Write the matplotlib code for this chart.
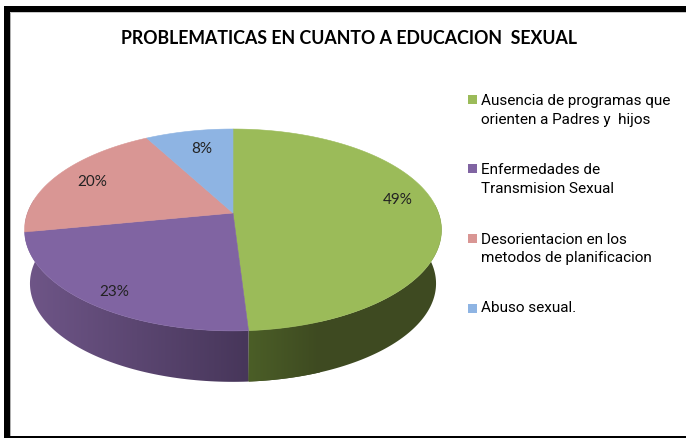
import numpy as np
import matplotlib
matplotlib.use('Agg')
import matplotlib.pyplot as plt
from matplotlib.patches import Polygon, Rectangle

# chart data
title = 'PROBLEMATICAS EN CUANTO A EDUCACION  SEXUAL'
categories = ['Ausencia de programas que\norienten a Padres y  hijos',
	'Enfermedades de\nTransmision Sexual',
	'Desorientacion en los\nmetodos de planificacion',
	'Abuso sexual.']
values = [49, 23, 20, 8]
colors = ['#9BBB59', '#8064A2', '#D99694', '#8EB4E3']
side_left = ['#4B5E27', '#6F5688']
side_right = ['#3E4A21', '#47365A']
label_pos = [(398, 200), (114, 292), (92, 182), (202, 149)]
legend_y = [110.5, 179.5, 249, 308]
marker_y = [99, 168, 238, 308]

# pie geometry, in pixels
cx, cy = 233, 213
a, b, k = 98.1, 205.5, 0.168
depth, shrink = 54, 0.974

# Projects an angle (deg, clockwise from top) onto the tilted disc
def project(deg, s=1.0, dy=0):
	t = np.radians(deg)
	w = 1 + k * np.cos(t)
	return cx + s * b * np.sin(t) / w, cy + dy - s * a * np.cos(t) / w

fig = plt.figure(figsize=(6.86, 4.38), dpi=100)
ax = fig.add_axes([0, 0, 1, 1])
ax.axis('off')

# frame
ax.add_patch(Rectangle((4, 6), 682, 6, color='black', lw=0))
ax.add_patch(Rectangle((4, 6), 6, 432, color='black', lw=0))
ax.add_patch(Rectangle((4, 436), 682, 2, color='black', lw=0))
ax.add_patch(Rectangle((10, 12), 1.2, 424, color='#b0b0b0', lw=0))
ax.add_patch(Rectangle((10, 12), 676, 1, color='#c8c8c8', lw=0))

edges = np.cumsum([0] + values) * 3.6

# outer wall of the pie, shaded left to right (only green and purple show)
for i in range(2):
	start = max(edges[i], 85)
	stop = edges[i + 1] if i == 0 else 278
	deg = np.linspace(start, stop, 90)
	top = np.array([project(d) for d in deg])
	bottom = np.array([project(d, shrink, depth) for d in deg])
	wall = Polygon(np.vstack([top, bottom[::-1]]), closed=True, fc='none', ec='none')
	ax.add_patch(wall)
	if i == 0:
		c1, c2 = side_left[i], side_right[i]
		x0, x1 = project(edges[1])[0], project(edges[1])[0] + 70
	else:
		c1, c2 = side_left[i], side_right[i]
		x0, x1 = 25, project(edges[1])[0]
	c1 = np.array(matplotlib.colors.to_rgb(c1))
	c2 = np.array(matplotlib.colors.to_rgb(c2))
	grad = np.linspace(c1, c2, 128)[np.newaxis, :, :]
	# right part of the green wall keeps the flat dark tone
	im = ax.imshow(grad, extent=[x0, x1, 400, 200], aspect='auto', zorder=1)
	im.set_clip_path(wall)
	if i == 0:
		rest = ax.add_patch(Polygon(np.vstack([top, bottom[::-1]]), closed=True, fc=side_right[0], ec='none', zorder=0.9))

ax.set_xlim(0, 686)
ax.set_ylim(438, 0)

# top face
for i in range(len(values)):
	deg = np.linspace(edges[i], edges[i + 1], 120)
	pts = [(cx, cy)] + [project(d) for d in deg]
	ax.add_patch(Polygon(pts, closed=True, fc=colors[i], ec=colors[i], lw=0.4, zorder=2))
	ax.text(label_pos[i][0], label_pos[i][1], '%d%%' % values[i], ha='center', va='center',
		fontsize=11, family=['Lato', 'DejaVu Sans'], color='#222222', zorder=3)

ax.text(349, 39, title, ha='center', va='center', fontsize=12.8, fontweight='bold',
	family=['Lato', 'DejaVu Sans'], color='black')

# legend
for i in range(len(categories)):
	ax.add_patch(Rectangle((468, marker_y[i] - 4.5), 9, 9, color=colors[i], lw=0))
	ax.text(481, legend_y[i], categories[i], ha='left', va='center', fontsize=11,
		family=['Roboto', 'Liberation Sans'], color='black', linespacing=1.45)

fig.savefig('out.png', dpi=100)
plt.close()
